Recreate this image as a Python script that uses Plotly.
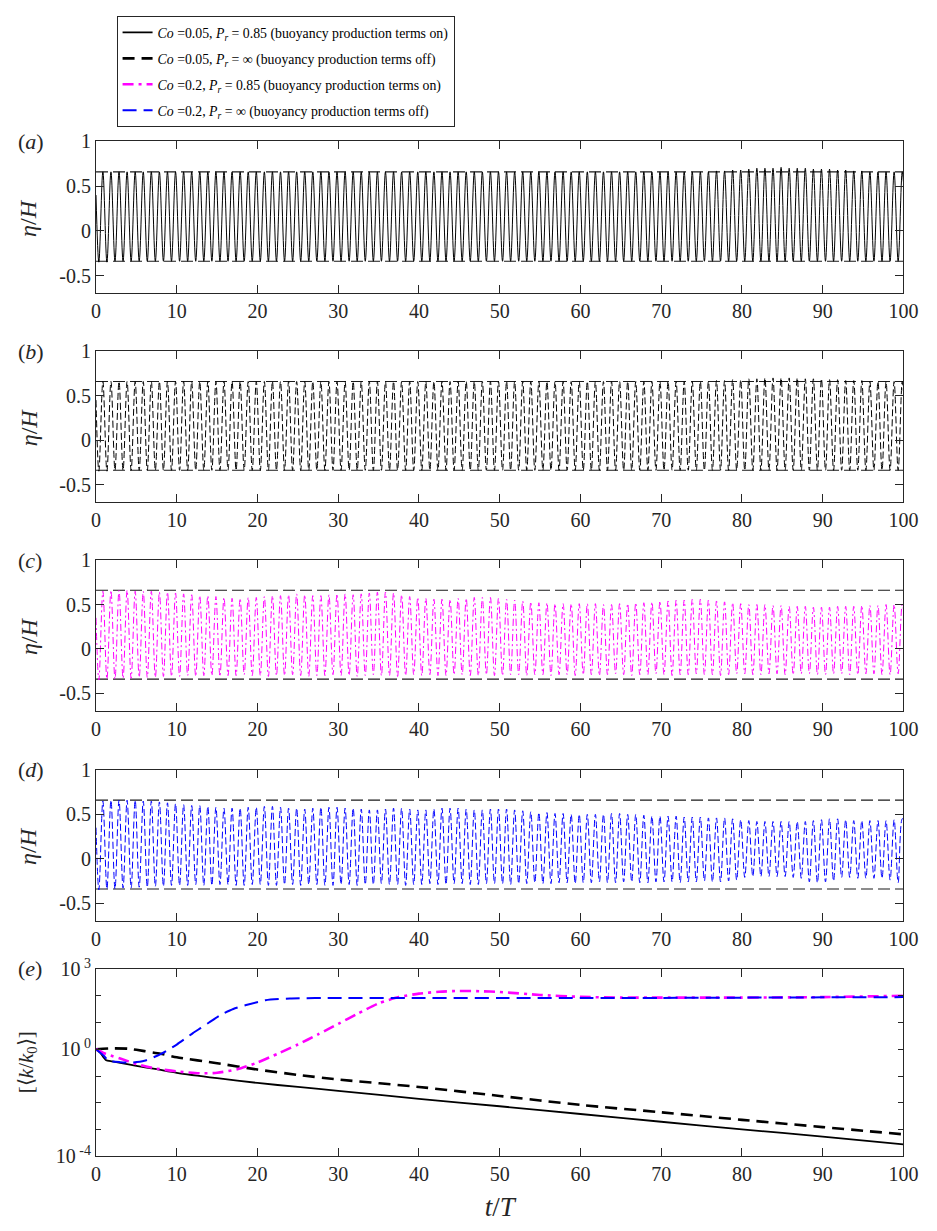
import numpy as np
import plotly.graph_objects as go

# ---------------- data ----------------
N_CYCLES = 100

# panel (a): Co=0.05, Pr=0.85 -- crest / trough elevation of each wave cycle
CREST_A = [0.66, 0.66, 0.66, 0.66, 0.66, 0.66, 0.66, 0.66, 0.66, 0.66,
           0.66, 0.66, 0.66, 0.66, 0.66, 0.66, 0.66, 0.66, 0.66, 0.66,
           0.66, 0.66, 0.66, 0.66, 0.66, 0.66, 0.66, 0.66, 0.66, 0.66,
           0.66, 0.66, 0.66, 0.66, 0.66, 0.66, 0.66, 0.66, 0.66, 0.66,
           0.66, 0.66, 0.66, 0.66, 0.66, 0.66, 0.66, 0.66, 0.66, 0.66,
           0.66, 0.66, 0.66, 0.66, 0.66, 0.66, 0.66, 0.66, 0.66, 0.66,
           0.66, 0.66, 0.66, 0.66, 0.66, 0.66, 0.66, 0.66, 0.66, 0.66,
           0.66, 0.66, 0.66, 0.66, 0.66, 0.66, 0.67, 0.67, 0.68, 0.68,
           0.69, 0.70, 0.70, 0.70, 0.71, 0.70, 0.70, 0.70, 0.69, 0.69,
           0.69, 0.68, 0.68, 0.67, 0.67, 0.66, 0.66, 0.66, 0.66, 0.66]
TROUGH_A = [-0.35, -0.35, -0.34, -0.34, -0.34, -0.34, -0.34, -0.34, -0.34, -0.34,
            -0.34, -0.34, -0.34, -0.34, -0.34, -0.34, -0.34, -0.34, -0.34, -0.34,
            -0.34, -0.34, -0.34, -0.34, -0.34, -0.34, -0.34, -0.34, -0.34, -0.34,
            -0.34, -0.34, -0.34, -0.34, -0.34, -0.34, -0.34, -0.34, -0.34, -0.34,
            -0.34, -0.34, -0.34, -0.34, -0.34, -0.34, -0.34, -0.34, -0.34, -0.34,
            -0.34, -0.34, -0.34, -0.34, -0.34, -0.34, -0.34, -0.34, -0.34, -0.34,
            -0.34, -0.34, -0.34, -0.34, -0.34, -0.34, -0.34, -0.34, -0.34, -0.34,
            -0.34, -0.34, -0.34, -0.34, -0.34, -0.34, -0.34, -0.34, -0.34, -0.34,
            -0.34, -0.34, -0.34, -0.34, -0.34, -0.34, -0.34, -0.34, -0.34, -0.34,
            -0.34, -0.34, -0.34, -0.34, -0.34, -0.34, -0.34, -0.34, -0.34, -0.34]
START_A, END_A = 0.40, 0.55

# panel (b): Co=0.05, Pr=inf
CREST_B = [0.66, 0.66, 0.66, 0.66, 0.66, 0.66, 0.66, 0.66, 0.66, 0.66,
           0.66, 0.66, 0.66, 0.66, 0.66, 0.66, 0.66, 0.66, 0.66, 0.66,
           0.66, 0.66, 0.66, 0.66, 0.66, 0.66, 0.66, 0.66, 0.66, 0.66,
           0.66, 0.66, 0.66, 0.66, 0.66, 0.66, 0.66, 0.66, 0.66, 0.66,
           0.66, 0.66, 0.66, 0.66, 0.66, 0.66, 0.66, 0.66, 0.66, 0.66,
           0.66, 0.66, 0.66, 0.66, 0.66, 0.66, 0.66, 0.66, 0.66, 0.66,
           0.66, 0.66, 0.66, 0.66, 0.66, 0.66, 0.66, 0.66, 0.66, 0.66,
           0.66, 0.66, 0.66, 0.66, 0.66, 0.66, 0.67, 0.67, 0.68, 0.68,
           0.69, 0.69, 0.70, 0.70, 0.70, 0.70, 0.70, 0.69, 0.69, 0.69,
           0.68, 0.68, 0.67, 0.67, 0.67, 0.66, 0.66, 0.66, 0.66, 0.66]
TROUGH_B = [-0.35, -0.35, -0.34, -0.34, -0.34, -0.34, -0.34, -0.34, -0.34, -0.34,
            -0.34, -0.34, -0.34, -0.34, -0.34, -0.34, -0.34, -0.34, -0.34, -0.34,
            -0.34, -0.34, -0.34, -0.34, -0.34, -0.34, -0.34, -0.34, -0.34, -0.34,
            -0.34, -0.34, -0.34, -0.34, -0.34, -0.34, -0.34, -0.34, -0.34, -0.34,
            -0.34, -0.34, -0.34, -0.34, -0.34, -0.34, -0.34, -0.34, -0.34, -0.34,
            -0.34, -0.34, -0.34, -0.34, -0.34, -0.34, -0.34, -0.34, -0.34, -0.34,
            -0.34, -0.34, -0.34, -0.34, -0.34, -0.34, -0.34, -0.34, -0.34, -0.34,
            -0.34, -0.34, -0.34, -0.34, -0.34, -0.34, -0.34, -0.34, -0.34, -0.34,
            -0.34, -0.34, -0.34, -0.34, -0.34, -0.34, -0.34, -0.34, -0.34, -0.34,
            -0.34, -0.34, -0.34, -0.34, -0.34, -0.34, -0.34, -0.34, -0.34, -0.34]
START_B, END_B = 0.45, 0.55

# panel (c): Co=0.2, Pr=0.85
CREST_C = [0.65, 0.66, 0.66, 0.66, 0.65, 0.65, 0.65, 0.64, 0.64, 0.63,
           0.62, 0.61, 0.60, 0.60, 0.59, 0.58, 0.57, 0.57, 0.58, 0.58,
           0.59, 0.60, 0.60, 0.61, 0.62, 0.61, 0.60, 0.60, 0.61, 0.62,
           0.62, 0.61, 0.62, 0.63, 0.64, 0.64, 0.63, 0.61, 0.59, 0.58,
           0.57, 0.56, 0.56, 0.56, 0.57, 0.57, 0.58, 0.58, 0.58, 0.57,
           0.56, 0.55, 0.54, 0.53, 0.52, 0.52, 0.51, 0.51, 0.51, 0.51,
           0.51, 0.51, 0.50, 0.50, 0.51, 0.51, 0.52, 0.52, 0.53, 0.54,
           0.54, 0.55, 0.55, 0.56, 0.56, 0.55, 0.54, 0.53, 0.52, 0.51,
           0.50, 0.50, 0.50, 0.49, 0.49, 0.48, 0.48, 0.48, 0.47, 0.47,
           0.47, 0.48, 0.48, 0.48, 0.49, 0.49, 0.49, 0.50, 0.50, 0.50]
TROUGH_C = [-0.35, -0.34, -0.34, -0.33, -0.33, -0.32, -0.32, -0.32, -0.31, -0.31,
            -0.31, -0.30, -0.31, -0.30, -0.30, -0.31, -0.30, -0.30, -0.29, -0.30,
            -0.30, -0.31, -0.30, -0.30, -0.29, -0.30, -0.31, -0.30, -0.30, -0.29,
            -0.30, -0.30, -0.31, -0.30, -0.29, -0.30, -0.30, -0.31, -0.30, -0.29,
            -0.30, -0.29, -0.30, -0.30, -0.29, -0.29, -0.30, -0.30, -0.29, -0.30,
            -0.30, -0.29, -0.29, -0.30, -0.29, -0.29, -0.30, -0.29, -0.29, -0.30,
            -0.29, -0.29, -0.30, -0.29, -0.28, -0.29, -0.30, -0.29, -0.29, -0.28,
            -0.29, -0.30, -0.29, -0.29, -0.28, -0.29, -0.29, -0.30, -0.29, -0.28,
            -0.28, -0.29, -0.29, -0.28, -0.28, -0.29, -0.29, -0.28, -0.28, -0.29,
            -0.29, -0.28, -0.28, -0.29, -0.29, -0.28, -0.28, -0.29, -0.29, -0.28]
START_C, END_C = 0.35, 0.45

# panel (d): Co=0.2, Pr=inf
CREST_D = [0.65, 0.66, 0.66, 0.66, 0.66, 0.65, 0.65, 0.64, 0.63, 0.62,
           0.61, 0.60, 0.60, 0.59, 0.58, 0.57, 0.57, 0.57, 0.58, 0.58,
           0.59, 0.59, 0.58, 0.57, 0.57, 0.56, 0.57, 0.58, 0.58, 0.58,
           0.57, 0.57, 0.56, 0.55, 0.55, 0.56, 0.57, 0.57, 0.56, 0.55,
           0.55, 0.56, 0.57, 0.57, 0.57, 0.56, 0.55, 0.55, 0.56, 0.56,
           0.56, 0.55, 0.54, 0.53, 0.52, 0.52, 0.51, 0.51, 0.50, 0.50,
           0.50, 0.50, 0.50, 0.51, 0.51, 0.50, 0.50, 0.49, 0.48, 0.48,
           0.48, 0.48, 0.47, 0.47, 0.47, 0.46, 0.46, 0.46, 0.45, 0.44,
           0.43, 0.42, 0.42, 0.42, 0.42, 0.42, 0.42, 0.42, 0.43, 0.44,
           0.45, 0.45, 0.44, 0.43, 0.43, 0.43, 0.43, 0.43, 0.44, 0.45]
TROUGH_D = [-0.35, -0.34, -0.34, -0.33, -0.33, -0.32, -0.32, -0.31, -0.31, -0.30,
            -0.30, -0.30, -0.29, -0.30, -0.30, -0.29, -0.29, -0.30, -0.30, -0.29,
            -0.29, -0.30, -0.30, -0.29, -0.29, -0.30, -0.29, -0.29, -0.30, -0.30,
            -0.29, -0.29, -0.30, -0.29, -0.29, -0.28, -0.29, -0.29, -0.30, -0.29,
            -0.29, -0.28, -0.29, -0.29, -0.28, -0.28, -0.29, -0.29, -0.28, -0.28,
            -0.28, -0.29, -0.28, -0.28, -0.27, -0.28, -0.28, -0.27, -0.27, -0.28,
            -0.27, -0.27, -0.26, -0.27, -0.27, -0.26, -0.26, -0.27, -0.27, -0.26,
            -0.26, -0.26, -0.27, -0.26, -0.26, -0.25, -0.26, -0.26, -0.25, -0.24,
            -0.21, -0.20, -0.20, -0.20, -0.20, -0.20, -0.21, -0.22, -0.26, -0.27,
            -0.26, -0.25, -0.21, -0.21, -0.22, -0.22, -0.22, -0.22, -0.24, -0.27]
START_D, END_D = 0.35, 0.45

# reference levels (dashed envelope lines) in panels (a)-(d)
ENVELOPE = [0.66, -0.34]

# panel (e): volume-averaged TKE [<k/k0>]
T_E1 = [0, 0.5, 1.2, 2, 3, 5, 7.5, 10, 15, 20, 25, 30, 40, 50, 60, 70, 80, 90, 100]
K_E1 = [1.0, 0.75, 0.40, 0.355, 0.31, 0.24, 0.18, 0.132, 0.083, 0.055, 0.039,
        0.028, 0.0141, 0.0074, 0.0038, 0.00195, 0.00102, 0.00054, 0.00028]

T_E2 = [0, 2, 4, 6, 8, 10, 15, 20, 25, 30, 40, 50, 60, 70, 80, 90, 100]
K_E2 = [1.0, 1.08, 1.05, 0.85, 0.68, 0.50, 0.30, 0.174, 0.11, 0.074, 0.039,
        0.018, 0.0083, 0.0044, 0.0023, 0.00123, 0.00066]

T_E3 = [0, 1, 2, 3, 5, 7, 10, 13, 15, 17.5, 20, 22.5, 25, 27.5, 30, 32.5, 35,
        37.5, 40, 42.5, 45, 47.5, 50, 55, 60, 65, 70, 80, 90, 100]
K_E3 = [1.0, 0.71, 0.56, 0.45, 0.28, 0.20, 0.148, 0.126, 0.132, 0.178, 0.32,
        0.68, 1.5, 3.6, 8.9, 22.0, 52.0, 89.0, 120.0, 141.0, 151.0, 148.0,
        138.0, 107.0, 91.0, 85.0, 85.0, 85.0, 89.0, 100.0]

T_E4 = [0, 1, 1.5, 3, 4.5, 6, 8, 10, 12, 13, 14, 15.4, 17, 18.6, 21, 24, 30,
        40, 50, 60, 70, 80, 90, 100]
K_E4 = [1.0, 0.56, 0.38, 0.33, 0.32, 0.37, 0.66, 1.5, 4.0, 6.3, 10.0, 19.0,
        32.0, 45.0, 68.0, 79.0, 83.0, 83.0, 83.0, 83.0, 83.0, 85.0, 87.0, 89.0]

X_TICKS = [0, 10, 20, 30, 40, 50, 60, 70, 80, 90, 100]
Y_TICKS = [-0.5, 0, 0.5, 1]
Y_TICK_TEXT = ["-0.5", "0", "0.5", "1"]
E_TICKS = [1e-4, 1e0, 1e3]
E_TICK_TEXT = ["10<sup> -4</sup>", "10<sup> 0</sup>", "10<sup> 3</sup>"]
E_MINOR = [1e-3, 1e-2, 1e-1, 1e1, 1e2]

NAMES = [
    "<i>Co</i> =0.05, <i>P<sub>r</sub></i> = 0.85 (buoyancy production terms on)",
    "<i>Co</i> =0.05, <i>P<sub>r</sub></i> = \u221e (buoyancy production terms off)",
    "<i>Co</i> =0.2, <i>P<sub>r</sub></i> = 0.85 (buoyancy production terms on)",
    "<i>Co</i> =0.2, <i>P<sub>r</sub></i> = \u221e (buoyancy production terms off)",
]
PANEL_LABELS = ["(<i>a</i>)", "(<i>b</i>)", "(<i>c</i>)", "(<i>d</i>)", "(<i>e</i>)"]
ETA_LABEL = "<i>\u03b7</i>/<i>H</i>"
K_LABEL = "[\u27e8<i>k</i>/<i>k</i><sub>0</sub>\u27e9]"
T_LABEL = "<i>t</i>/<i>T</i>"

# ---------------- figure ----------------
W, H = 937, 1231
FONT = "Liberation Serif"
INK = "#262626"


def wave_series(start, crest, trough, end):
    t, y = [0.0], [start]
    for n in range(N_CYCLES):
        t += [n + 0.35, n + 0.85]
        y += [trough[n], crest[n]]
    t.append(float(N_CYCLES))
    y.append(end)
    return t, y


# panel pixel boxes (top, bottom)
PANELS_PX = [(131, 286), (345, 499), (558, 712), (772, 926), (975, 1166)]
X_DOM = [93 / W, 918 / W]

fig = go.Figure()

wave_specs = [
    (START_A, CREST_A, TROUGH_A, END_A, "black", "solid"),
    (START_B, CREST_B, TROUGH_B, END_B, "black", "7px,3px"),
    (START_C, CREST_C, TROUGH_C, END_C, "#ff00ff", "7px,3px,2px,3px"),
    (START_D, CREST_D, TROUGH_D, END_D, "#0000ff", "7px,3px"),
]

for i, (s, c, tr, e, col, dash) in enumerate(wave_specs):
    ax = "" if i == 0 else str(i + 1)
    for lvl in ENVELOPE:
        fig.add_trace(go.Scatter(
            x=[0, 100], y=[lvl, lvl], mode="lines", showlegend=False,
            line=dict(color="#1a1a1a", width=1.1, dash="12px,5px"),
            xaxis="x" + ax, yaxis="y" + ax, hoverinfo="skip"))
    t, y = wave_series(s, c, tr, e)
    fig.add_trace(go.Scatter(
        x=t, y=y, mode="lines", showlegend=False,
        line=dict(color=col, width=1, dash=dash, shape="spline", smoothing=1.0),
        xaxis="x" + ax, yaxis="y" + ax))

e_specs = [
    (T_E1, K_E1, "black", "solid", 1.8),
    (T_E2, K_E2, "black", "12px,7px", 2.6),
    (T_E3, K_E3, "#ff00ff", "11px,5px,3px,5px", 2.6),
    (T_E4, K_E4, "#0000ff", "14px,7px", 2.0),
]
for j, ((t, k, col, dash, wdt), name) in enumerate(zip(e_specs, NAMES)):
    fig.add_trace(go.Scatter(
        x=t, y=k, mode="lines", name=name, legendgroup="g%d" % j,
        line=dict(color=col, width=wdt, dash=dash, shape="spline", smoothing=0.6),
        xaxis="x5", yaxis="y5"))

axis_common = dict(
    showline=True, linecolor=INK, linewidth=1, mirror="ticks",
    ticks="inside", ticklen=8, tickcolor=INK, tickwidth=1,
    showgrid=False, zeroline=False,
    tickfont=dict(family=FONT, size=20, color=INK),
)

layout = dict(
    width=W, height=H, margin=dict(l=0, r=0, t=0, b=0),
    paper_bgcolor="white", plot_bgcolor="white",
    showlegend=True,
    legend=dict(
        x=114 / W, y=1 - 3 / H, xanchor="left", yanchor="top",
        bordercolor=INK, borderwidth=1, bgcolor="white",
        font=dict(family=FONT, size=13.8, color="black"),
        itemwidth=30, tracegroupgap=5,
    ),
)

annotations = []
for i, (top, bot) in enumerate(PANELS_PX):
    ax = "" if i == 0 else str(i + 1)
    ydom = [1 - bot / H, 1 - top / H]
    xa = dict(axis_common, domain=X_DOM, range=[0, 100], tickvals=X_TICKS,
              anchor="y" + ax)
    if i < 4:
        ya = dict(axis_common, domain=ydom, range=[-0.7, 1], tickvals=Y_TICKS,
                  ticktext=Y_TICK_TEXT, anchor="x" + ax)
        ytitle, ysize, yx = ETA_LABEL, 24, 24
    else:
        ya = dict(axis_common, domain=ydom, type="log", range=[-4, 3],
                  tickvals=E_TICKS, ticktext=E_TICK_TEXT, anchor="x" + ax,
                  ticklen=5,
                  minor=dict(tickvals=E_MINOR, ticks="inside", ticklen=5,
                             tickcolor=INK, tickwidth=1, showgrid=False))
        ytitle, ysize, yx = K_LABEL, 21, 22
        xa["title"] = dict(text=T_LABEL,
                           font=dict(family=FONT, size=27, color=INK), standoff=12)
    layout["xaxis" + ax] = xa
    layout["yaxis" + ax] = ya
    annotations.append(dict(
        text=ytitle, xref="paper", yref="paper", textangle=-90,
        x=yx / W, y=(ydom[0] + ydom[1]) / 2, xanchor="center", yanchor="middle",
        showarrow=False, font=dict(family=FONT, size=ysize, color=INK)))
    annotations.append(dict(
        text=PANEL_LABELS[i], xref="paper", yref="paper",
        x=11 / W, y=1 - top / H, xanchor="left", yanchor="middle",
        showarrow=False, font=dict(family=FONT, size=22, color=INK)))

layout["annotations"] = annotations
fig.update_layout(**layout)
fig.write_html("out.html")
